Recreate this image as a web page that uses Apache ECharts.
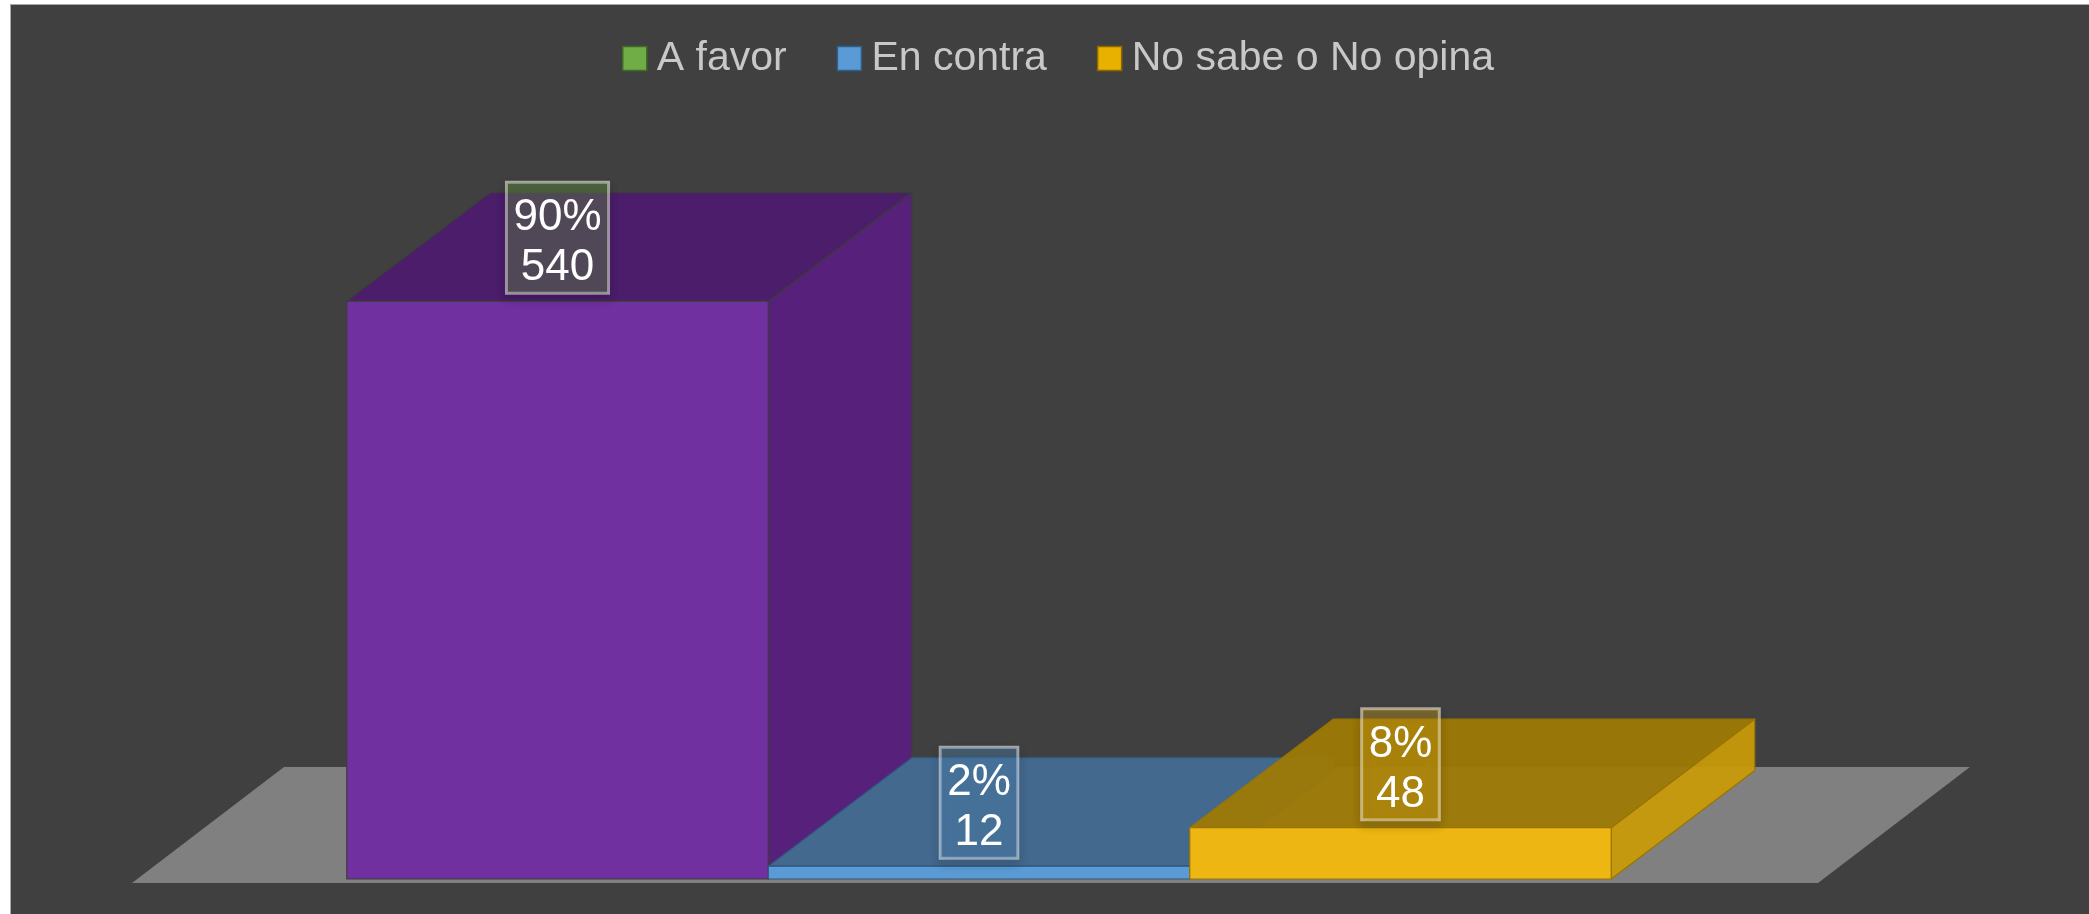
<!DOCTYPE html>
<html>
<head>
<meta charset="utf-8">
<script src="https://cdn.jsdelivr.net/npm/echarts@6/dist/echarts.min.js"></script>
<style>
  html, body { margin: 0; padding: 0; background: #ffffff; overflow: hidden; }
  #chart {
    position: absolute; left: 10px; top: 4px;
    width: 2079px; height: 910px;
    border-left: 1px solid #a8a8a8; border-top: 1px solid #a8a8a8;
  }
</style>
</head>
<body>
<div id="chart"></div>
<script>
// one (empty) category, three series as in the original sheet
var categories = [''];
var seriesNames = ['A favor', 'En contra', 'No sabe o No opina'];
var seriesValues = [540, 12, 48];

var legendColors = ['#70AD47', '#5B9BD5', '#E8B100'];
var legendBorders = ['#3e6b27', '#2f5f8c', '#8a6a00'];
// front / top / side / edge of each box
var faceColors = [
  ['#7030A0', '#4B1D6B', '#56207B', '#3c3c3c'],
  ['#5B9BD5', '#44698F', '#3E6D98', '#30577e'],
  ['#EDB612', 'rgba(158,121,5,0.95)', 'rgba(199,153,8,0.95)', '#9a7400']
];
var labelBg = ['rgba(112,173,71,0.32)', 'rgba(91,155,213,0.32)', 'rgba(237,182,18,0.32)'];

var total = seriesValues.reduce(function (a, b) { return a + b; }, 0);

var DX = 143.5, DY = -108.5;      // bar depth
var FDX = 152, FDY = -116;        // floor depth
var SHIFT_X = 4, SHIFT_Y = -4;    // bars sit a bit back on the floor

var el = document.getElementById('chart');
var myChart = echarts.init(el, null, { renderer: 'canvas' });

function floorItem(params, api) {
  var base = api.coord([0, 0]);
  var band = api.size([1, 0])[0];
  var xl = base[0] - band / 2, xr = base[0] + band / 2, y = base[1] - SHIFT_Y;
  return {
    type: 'polygon',
    shape: { points: [[xl, y], [xr, y], [xr + FDX, y + FDY], [xl + FDX, y + FDY]] },
    style: { fill: '#808080' }
  };
}

function boxItem(idx) {
  return function (params, api) {
    var v = api.value(1);
    var base = api.coord([0, 0]);
    var top = api.coord([0, v]);
    var band = api.size([1, 0])[0];
    var barW = band / 4;
    var x0 = base[0] + SHIFT_X - 1.5 * barW + idx * barW;
    var x1 = x0 + barW;
    var yb = base[1], yt = top[1];
    var c = faceColors[idx];
    var edge = { stroke: c[3], lineWidth: 1.2, lineJoin: 'round' };
    var pct = Math.round(v / total * 100) + '%';
    return {
      type: 'group',
      children: [
        { type: 'polygon', shape: { points: [[x1, yb], [x1 + DX, yb + DY], [x1 + DX, yt + DY], [x1, yt]] },
          style: Object.assign({ fill: c[2] }, edge) },
        { type: 'polygon', shape: { points: [[x0, yt], [x1, yt], [x1 + DX, yt + DY], [x0 + DX, yt + DY]] },
          style: Object.assign({ fill: c[1] }, edge) },
        { type: 'polygon', shape: { points: [[x0, yb], [x1, yb], [x1, yt], [x0, yt]] },
          style: Object.assign({ fill: c[0] }, edge) },
        { type: 'text', x: (x0 + x1) / 2, y: yt - 8, z2: 10,
          style: {
            text: pct + '\n' + v,
            align: 'center', verticalAlign: 'bottom',
            fill: '#ffffff', fontSize: 44, lineHeight: 50,
            fontFamily: '"Liberation Sans", Arial, sans-serif',
            backgroundColor: labelBg[idx],
            borderColor: 'rgba(255,255,255,0.55)', borderWidth: 1.5,
            padding: [11, 7, 0, 7],
            shadowColor: 'rgba(0,0,0,0.35)', shadowBlur: 10, shadowOffsetY: 5
          } }
      ]
    };
  };
}

var series = [{
  name: 'floor', type: 'custom', silent: true, z: 1,
  renderItem: floorItem, encode: { x: 0, y: 1 },
  data: [[0, 0]]
}];
for (var i = 0; i < seriesNames.length; i++) {
  series.push({
    name: seriesNames[i], type: 'custom', z: 2 + i,
    itemStyle: { color: legendColors[i] },
    renderItem: boxItem(i), encode: { x: 0, y: 1 },
    data: [[0, seriesValues[i]]]
  });
}

var option = {
  backgroundColor: '#404040',
  animation: false,
  legend: {
    left: 611, top: 33, padding: 0,
    itemWidth: 34, itemHeight: 24, itemGap: 50,
    icon: 'path://M0,0H10V10H0Z', symbolKeepAspect: true,
    textStyle: { color: '#c8c8c8', fontSize: 41, fontFamily: '"Liberation Sans", Arial, sans-serif' },
    data: seriesNames.map(function (n, k) {
      return { name: n, itemStyle: { color: legendColors[k], borderColor: legendBorders[k], borderWidth: 1.5 } };
    })
  },
  grid: { left: 121, width: 1686, top: 232, bottom: 36 },
  xAxis: { type: 'category', data: categories, show: false },
  yAxis: { type: 'value', min: 0, max: 600, show: false },
  series: series
};

myChart.setOption(option);
</script>
</body>
</html>
